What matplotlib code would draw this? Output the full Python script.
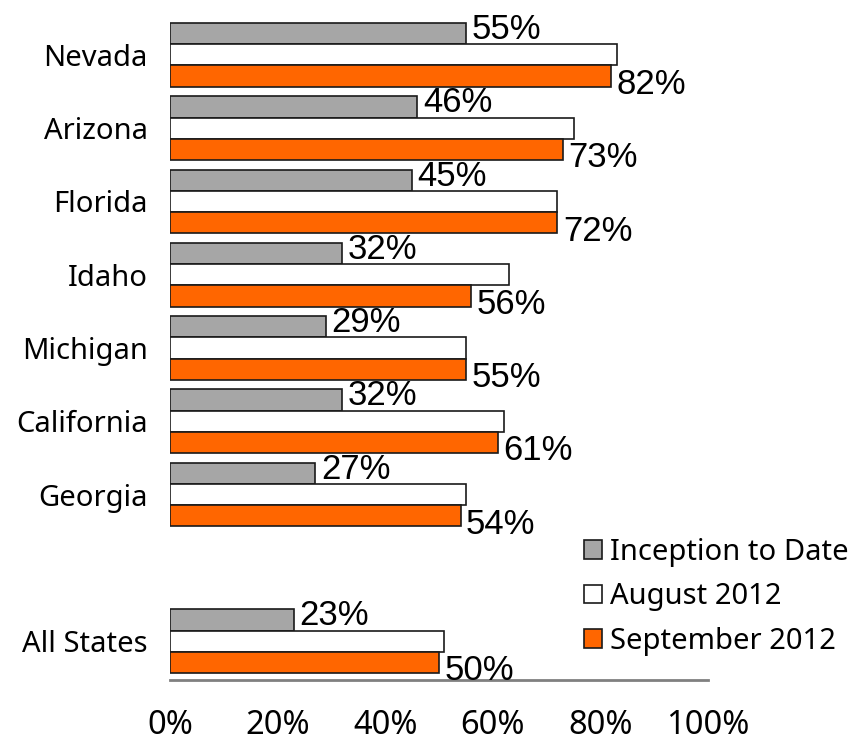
import matplotlib
matplotlib.use("Agg")
import matplotlib.pyplot as plt
from matplotlib.patches import Patch
import numpy as np

categories = ["Nevada", "Arizona", "Florida", "Idaho", "Michigan", "California", "Georgia", "", "All States"]
inception = [55, 46, 45, 32, 29, 32, 27, None, 23]
august = [83, 75, 72, 63, 55, 62, 55, None, 51]
september = [82, 73, 72, 56, 55, 61, 54, None, 50]
series_names = ["Inception to Date", "August 2012", "September 2012"]
xticks = [0, 20, 40, 60, 80, 100]
xtick_labels = ["0%", "20%", "40%", "60%", "80%", "100%"]

colors = ["#A6A6A6", "#FFFFFF", "#FF6600"]
edge = "#1a1a1a"
cat_font = "Noto Sans"
val_font = "Liberation Sans"

fig = plt.figure(figsize=(8.6, 7.42), dpi=100)
ax = fig.add_axes([170/860, 1-680/742, (708-170)/860, (680-16)/742])

h = 0.29
pos = np.arange(len(categories))
for vals, off, col in zip([inception, august, september], [-h, 0, h], colors):
    for p, v in zip(pos, vals):
        if v is None:
            continue
        ax.barh(p + off, v, height=h, color=col, edgecolor=edge, linewidth=1.2)

for p, v in zip(pos, inception):
    if v is None:
        continue
    ax.annotate(f"{v}%", xy=(v, p - h), xytext=(4, 3), textcoords="offset points",
                ha="left", va="center", fontsize=25, family=val_font)
for p, v in zip(pos, september):
    if v is None:
        continue
    ax.annotate(f"{v}%", xy=(v, p + h), xytext=(4, -6), textcoords="offset points",
                ha="left", va="center", fontsize=25, family=val_font)

ax.set_xlim(0, 100)
ax.set_ylim(len(categories) - 0.47, -0.53)
ax.set_yticks([p for p, c in zip(pos, categories) if c])
ax.set_yticklabels([c for c in categories if c], fontsize=21, family=cat_font)
ax.set_xticks(xticks)
ax.set_xticklabels(xtick_labels, fontsize=23.5, family=cat_font)
ax.tick_params(axis="y", length=0, pad=16)
ax.tick_params(axis="x", length=0, pad=21)
for s in ["top", "right", "left"]:
    ax.spines[s].set_visible(False)
ax.spines["bottom"].set_color("#808080")
ax.spines["bottom"].set_linewidth(2)

handles = [Patch(facecolor=c, edgecolor=edge, linewidth=1.2) for c in colors]
fig.legend(handles, series_names, loc="upper left", bbox_to_anchor=(584/860, 1-538/742),
           frameon=False, prop={"family": cat_font, "size": 21},
           handlelength=0.6, handleheight=0.6, handletextpad=0.3, labelspacing=0.53,
           borderpad=0, borderaxespad=0)

fig.savefig("out.png", dpi=100)
